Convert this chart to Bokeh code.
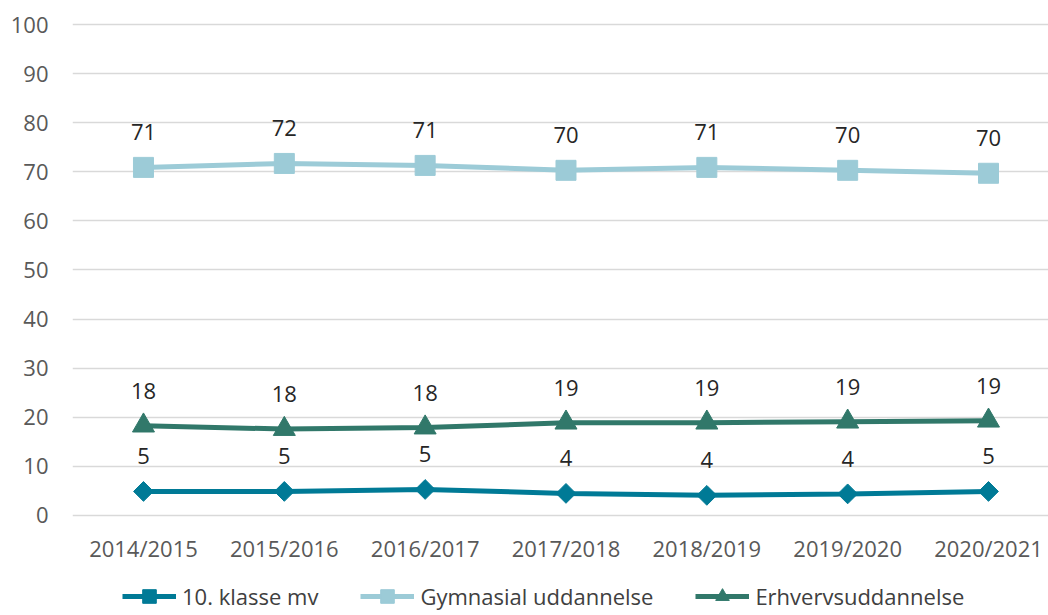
import numpy as np
from bokeh.plotting import figure
from bokeh.models import Range1d, FixedTicker, Legend, LegendItem, ColumnDataSource
from bokeh.embed import file_html
from bokeh.resources import INLINE
from bokeh.core.properties import value

years = ["2014/2015", "2015/2016", "2016/2017", "2017/2018", "2018/2019", "2019/2020", "2020/2021"]
klasse10 = [4.9, 4.9, 5.3, 4.5, 4.1, 4.4, 4.9]
gymnasial = [70.9, 71.7, 71.3, 70.3, 70.9, 70.3, 69.7]
erhverv = [18.3, 17.6, 17.9, 18.9, 18.9, 19.1, 19.3]
y_ticks = [0, 10, 20, 30, 40, 50, 60, 70, 80, 90, 100]

FONT = "Open Sans"
C_K10 = "#007a96"
C_GYM = "#9ccbd7"
C_ERH = "#31786a"

x = list(range(len(years)))

# frame reaches the bottom of the window so the legend can sit inside it;
# the category axis is pinned at y = 0
p = figure(frame_width=976, frame_height=599, output_backend="svg", toolbar_location=None,
           x_range=Range1d(-0.504, 6.426), y_range=Range1d(-20.37, 101.63),
           min_border_top=16, min_border_left=72, min_border_right=0, min_border_bottom=0)
p.outline_line_color = None
p.background_fill_color = "white"
p.border_fill_color = "white"

p.xgrid.grid_line_color = None
p.ygrid.grid_line_color = "#d9d9d9"
p.ygrid.grid_line_width = 1.5

p.yaxis.ticker = FixedTicker(ticks=y_ticks)
p.xaxis.ticker = FixedTicker(ticks=x)
p.xaxis.major_label_overrides = {i: y for i, y in enumerate(years)}
p.xaxis.fixed_location = 0
for ax in (p.xaxis, p.yaxis):
    ax.axis_line_color = None
    ax.major_tick_line_color = None
    ax.minor_tick_line_color = None
    ax.major_tick_out = 0
    ax.major_tick_in = 0
    ax.minor_tick_out = 0
    ax.minor_tick_in = 0
    ax.major_label_text_font = FONT
    ax.major_label_text_font_size = "22px"
    ax.major_label_text_color = "#595959"
p.yaxis.major_label_standoff = 24
p.xaxis.major_label_standoff = 18

series = [
    ("10. klasse mv", klasse10, C_K10, "square", 14, np.pi / 4),
    ("Gymnasial uddannelse", gymnasial, C_GYM, "square", 20, 0.0),
    ("Erhvervsuddannelse", erhverv, C_ERH, "triangle", 22, 0.0),
]

items = []
for name, vals, col, mk, sz, ang in series:
    src = ColumnDataSource(dict(x=x, y=vals, lab=[f"{v:.0f}" for v in vals]))
    lr = p.line("x", "y", source=src, line_color=col, line_width=5)
    sr = p.scatter("x", "y", source=src, marker=mk, size=sz, angle=ang,
                   fill_color=col, line_color=col)
    p.text("x", "y", text="lab", source=src, text_font=value(FONT), text_font_size="22px",
           text_color="#262626", text_align="center", text_baseline="middle", y_offset=-35)
    items.append(LegendItem(label=name, renderers=[lr, sr]))

legend = Legend(items=items, orientation="horizontal", location=(50, 2),
                glyph_width=54, glyph_height=34, label_standoff=6, spacing=42,
                padding=0, margin=0, border_line_color=None, background_fill_alpha=0,
                label_text_font=FONT, label_text_font_size="22px", label_text_color="#404040")
p.add_layout(legend, "center")

open("out.html", "w").write(file_html(p, INLINE))
